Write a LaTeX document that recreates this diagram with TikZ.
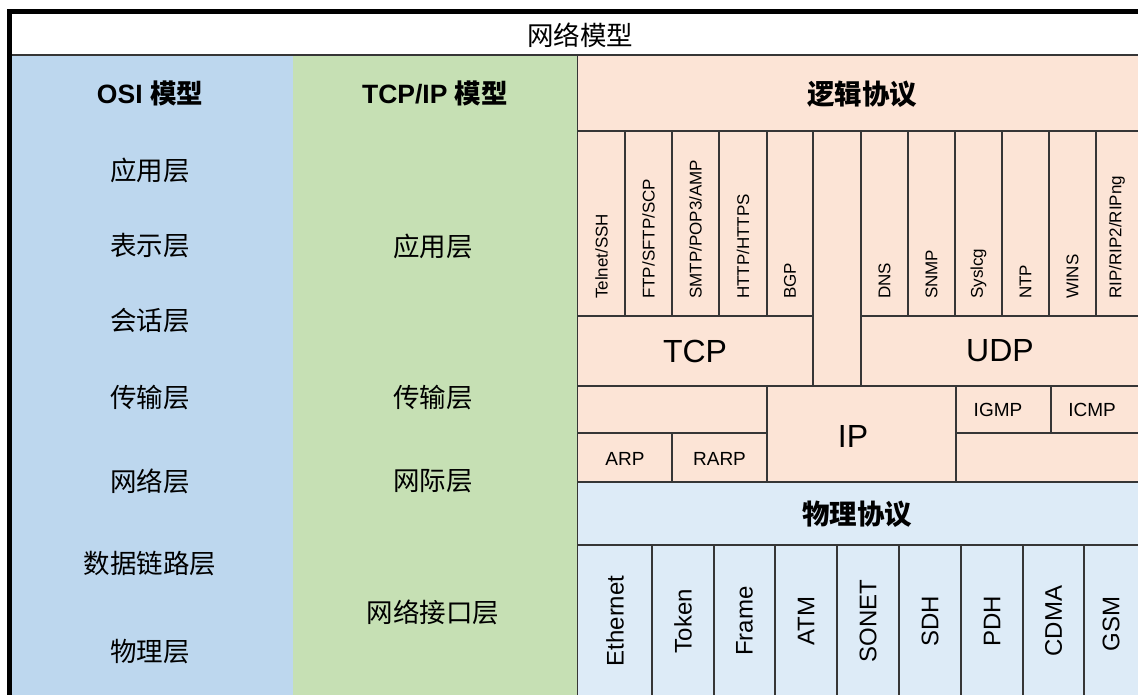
\documentclass[tikz,border=0pt]{standalone}
\usepackage{fontspec}
\setmainfont{Liberation Sans}
\newfontfamily\cjk{Noto Sans CJK SC}
\definecolor{osiblue}{HTML}{BDD7EE}
\definecolor{tcpgreen}{HTML}{C6E0B4}
\definecolor{logpink}{HTML}{FCE4D6}
\definecolor{phyblue}{HTML}{DDEBF7}
\definecolor{gridline}{HTML}{363636}
\begin{document}
\begin{tikzpicture}[x=1pt,y=-1pt,
  grid/.style={draw=gridline,line width=1.1pt},
  smalltxt/.style={font=\fontsize{17}{20}\selectfont,rotate=90,anchor=west,inner sep=0pt},
  phytxt/.style={font=\fontsize{24}{29}\selectfont,rotate=90,inner sep=0pt},
  bigtxt/.style={font=\fontsize{32}{38}\selectfont,inner sep=0pt},
  midtxt/.style={font=\fontsize{19}{23}\selectfont,inner sep=0pt},
  layertxt/.style={font=\cjk\fontsize{26.5}{31}\selectfont,inner sep=0pt},
  headtxt/.style={font=\bfseries\fontsize{26.5}{31}\selectfont,inner sep=0pt},
  protohead/.style={font=\cjk\bfseries\fontsize{27.5}{32}\selectfont,inner sep=0pt}]
\useasboundingbox (0,0) rectangle (1138,695);
% fills
\fill[white] (0,0) rectangle (1138,695);
\fill[white] (12,14) rectangle (1138,56);
\fill[osiblue] (12,56) rectangle (293,695);
\fill[tcpgreen] (293,56) rectangle (577,695);
\fill[logpink] (577,56) rectangle (1138,482);
\fill[phyblue] (577,482) rectangle (1138,695);
% title
\node[layertxt] (title) at (580,35) {网络模型};
\draw[gridline,line width=2pt] (12,55.5) -- (1138,55.5);
\draw[gridline,line width=1.8pt] (577.5,56) -- (577.5,695);
% left columns
\node[headtxt] (osih) at (150,93) {OSI {\cjk 模型}};
\node[headtxt] (tcph) at (435,93) {TCP/IP {\cjk 模型}};
\node[layertxt] (o1) at (150,170) {应用层};
\node[layertxt] (o2) at (150,246) {表示层};
\node[layertxt] (o3) at (150,321) {会话层};
\node[layertxt] (o4) at (150,398) {传输层};
\node[layertxt] (o5) at (150,481) {网络层};
\node[layertxt] (o6) at (150,564) {数据链路层};
\node[layertxt] (o7) at (150,652) {物理层};
\node[layertxt] (t1) at (433,246) {应用层};
\node[layertxt] (t2) at (433,398) {传输层};
\node[layertxt] (t3) at (433,481) {网际层};
\node[layertxt] (t4) at (433,612) {网络接口层};
% logical protocols grid
\node[protohead] (logh) at (862,94) {逻辑协议};
\draw[grid] (577,131) -- (1138,131);
\foreach \x in {625,672,719,767,908,955,1002,1049,1096} \draw[grid] (\x,131) -- (\x,316);
\draw[grid] (813,131) -- (813,386);
\draw[grid] (861,131) -- (861,386);
\draw[grid] (577,316) -- (813,316);
\draw[grid] (861,316) -- (1138,316);
\draw[grid] (577,386) -- (1138,386);
\draw[grid] (767,386) -- (767,482);
\draw[grid] (956,386) -- (956,482);
\draw[grid] (577,433) -- (767,433);
\draw[grid] (956,433) -- (1138,433);
\draw[grid] (672,433) -- (672,482);
\draw[grid] (1051,386) -- (1051,433);
\draw[gridline,line width=1.8pt] (577,482) -- (1138,482);
\node[smalltxt] (p1) at (601.5,299) {Telnet/SSH};
\node[smalltxt] (p2) at (648.5,299) {FTP/SFTP/SCP};
\node[smalltxt] (p3) at (695.5,299) {SMTP/POP3/AMP};
\node[smalltxt] (p4) at (743,299) {HTTP/HTTPS};
\node[smalltxt] (p5) at (790,299) {BGP};
\node[smalltxt] (p6) at (884.5,299) {DNS};
\node[smalltxt] (p7) at (931.5,299) {SNMP};
\node[smalltxt] (p8) at (978.5,299) {Syslcg};
\node[smalltxt] (p9) at (1025.5,299) {NTP};
\node[smalltxt] (p10) at (1072.5,299) {WINS};
\node[smalltxt] (p11) at (1117,299) {RIP/RIP2/RIPng};
\node[bigtxt] (tcp) at (695,351) {TCP};
\node[bigtxt] (udp) at (1000,351) {UDP};
\node[bigtxt] (ip) at (853,436) {IP};
\node[midtxt] (igmp) at (998,410) {IGMP};
\node[midtxt] (icmp) at (1092,410) {ICMP};
\node[midtxt] (arp) at (625,459) {ARP};
\node[midtxt] (rarp) at (719.5,459) {RARP};
% physical protocols
\node[protohead] (phyh) at (857,514) {物理协议};
\draw[grid] (577,545) -- (1138,545);
\foreach \x in {652,714,775,837,899,961,1023,1084} \draw[grid] (\x,545) -- (\x,695);
\node[phytxt] (e1) at (615,621) {Ethernet};
\node[phytxt] (e2) at (683,621) {Token};
\node[phytxt] (e3) at (744.5,621) {Frame};
\node[phytxt] (e4) at (806,621) {ATM};
\node[phytxt] (e5) at (868,621) {SONET};
\node[phytxt] (e6) at (930,621) {SDH};
\node[phytxt] (e7) at (992,621) {PDH};
\node[phytxt] (e8) at (1053.5,621) {CDMA};
\node[phytxt] (e9) at (1111,624) {GSM};
% outer border
\draw[black,line width=4.5pt] (9.5,11.5) rectangle (1160,720);
\end{tikzpicture}
\end{document}
